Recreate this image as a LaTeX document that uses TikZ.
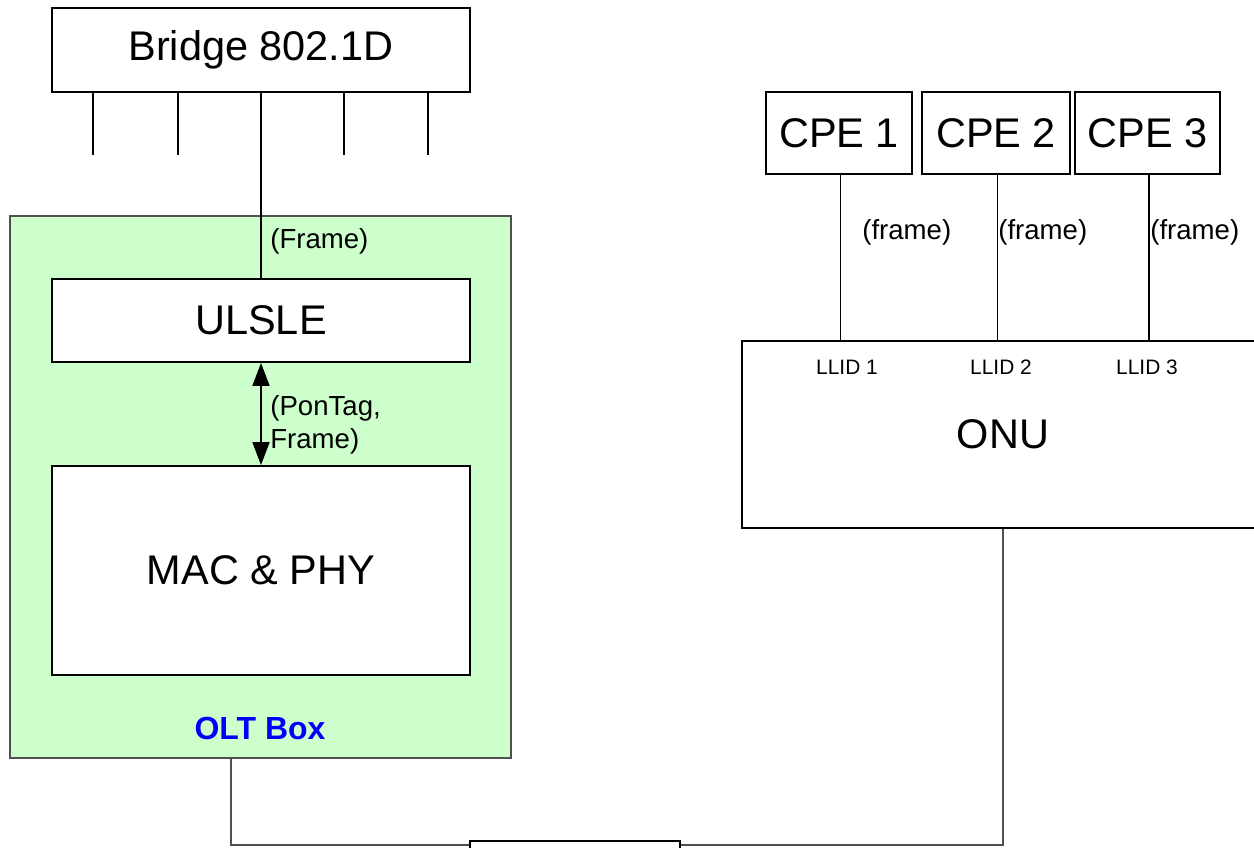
\documentclass[tikz,border=0pt]{standalone}
\usepackage{fontspec}
\setmainfont{Liberation Sans}
\usetikzlibrary{arrows.meta,positioning}
\definecolor{OltGreen}{HTML}{CCFFCC}
\definecolor{Wire}{HTML}{505050}
\definecolor{OltBlue}{HTML}{0000FF}

\begin{document}
\begin{tikzpicture}[x=0.02cm,y=-0.02cm,
    box/.style={draw,fill=white,line width=1.1pt,inner sep=0pt,
      font=\fontsize{23.6}{28}\selectfont},
    lbl/.style={inner sep=0pt,anchor=west,font=\fontsize{15.7}{19}\selectfont},
    llid/.style={inner sep=0pt,font=\fontsize{11.9}{14}\selectfont},
    wire/.style={line width=1.1pt},
    thin wire/.style={line width=0.6pt}]
  \clip (0,0) rectangle (1254,848);
  % OLT side
  \node[draw=Wire,fill=OltGreen,line width=1.1pt,minimum width=10.02cm,minimum height=10.84cm] (olt) at (260.5,487) {};
  \node[font=\fontsize{18.2}{22}\selectfont\bfseries,text=OltBlue,inner sep=0pt] (oltlabel) at (260,728) {OLT Box};
  \node[box,minimum width=8.36cm,minimum height=1.68cm] (bridge) at (261,50) {Bridge 802.1D};
  \node[box,minimum width=8.36cm,minimum height=1.66cm] (ulsle) at (261,320.5) {ULSLE};
  \node[box,minimum width=8.36cm,minimum height=4.18cm] (macphy) at (261,570.5) {MAC \& PHY};
  \foreach \x/\name in {93/pa,178/pb,344/pc,428/pd} {
    \coordinate (\name) at (\x,155);
    \draw[wire] (bridge.south -| \name) -- (\name);
  }
  \draw[wire] (bridge.south) -- (ulsle.north);
  \node[lbl] (framelbl) at (270,241) {(Frame)};
  \draw[wire,{Triangle[length=0.46cm,width=0.34cm]}-{Triangle[length=0.46cm,width=0.34cm]}] (ulsle.south) -- (macphy.north);
  \node[lbl,align=left] (ponlbl) at (270,425) {(PonTag,\\Frame)};
  % ONU side
  \node[box,minimum width=2.92cm,minimum height=1.64cm] (cpe1) at (839,133) {CPE 1};
  \node[box,minimum width=2.96cm,minimum height=1.64cm] (cpe2) at (996,133) {CPE 2};
  \node[box,minimum width=2.9cm,minimum height=1.64cm] (cpe3) at (1147.5,133) {CPE 3};
  \node[box,minimum width=10.44cm,minimum height=3.74cm] (onu) at (1003,434.5) {ONU};
  \foreach \i/\x in {1/862,2/998,3/1150} {
    \draw[thin wire] ([xshift=0.03cm]cpe\i.south) -- ([xshift=0.03cm]cpe\i.south |- onu.north);
    \node[lbl] (frame\i) at (\x,232) {(frame)};
  }
  \node[llid] (llid1) at (847,367) {LLID 1};
  \node[llid] (llid2) at (1001,367) {LLID 2};
  \node[llid] (llid3) at (1147,367) {LLID 3};
  % fibre between OLT and ONU
  \node[draw,fill=white,line width=1pt,minimum width=4.2cm,minimum height=0.58cm] (link) at (575,855.5) {};
  \draw[wire,draw=Wire] ([xshift=-0.59cm]olt.south) |- ([yshift=-0.1cm]link.north west);
  \draw[wire,draw=Wire] ([yshift=-0.1cm]link.north east) -| (onu.south);
\end{tikzpicture}
\end{document}
